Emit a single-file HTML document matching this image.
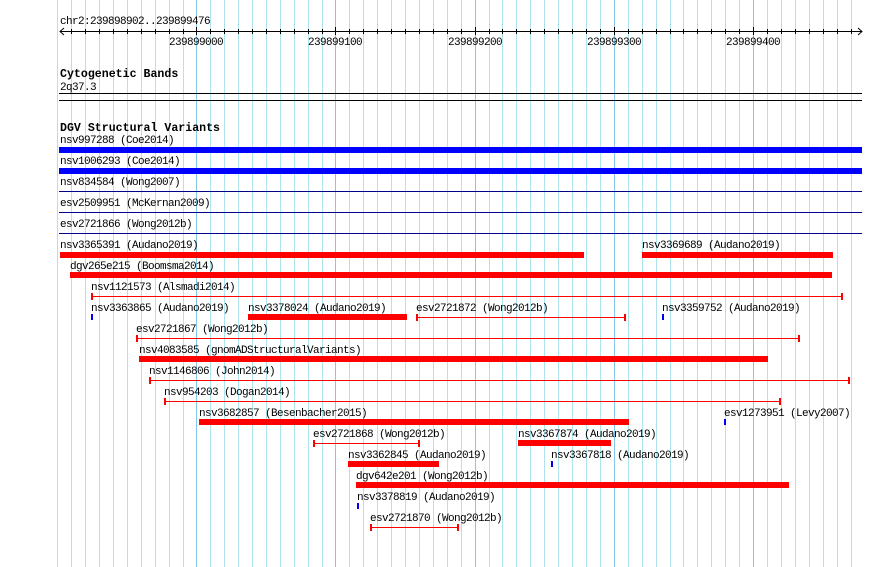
<!DOCTYPE html>
<html><head><meta charset="utf-8"><style>
html,body{margin:0;padding:0;background:#fff;width:890px;height:567px;overflow:hidden}
svg text{font-family:"Liberation Mono","DejaVu Sans Mono",monospace;font-size:11px;letter-spacing:-0.6px;fill:#000}
svg text.b{font-weight:bold;font-size:11.6px;letter-spacing:0}
</style></head><body>
<svg width="890" height="567" viewBox="0 0 890 567" xmlns="http://www.w3.org/2000/svg">
<g stroke="#aee4ee" stroke-width="1">
<line x1="57.5" y1="0" x2="57.5" y2="567"/><line x1="71.5" y1="0" x2="71.5" y2="567"/><line x1="85.5" y1="0" x2="85.5" y2="567"/><line x1="99.5" y1="0" x2="99.5" y2="567"/><line x1="113.5" y1="0" x2="113.5" y2="567"/><line x1="127.5" y1="0" x2="127.5" y2="567"/><line x1="141.5" y1="0" x2="141.5" y2="567"/><line x1="155.5" y1="0" x2="155.5" y2="567"/><line x1="169.5" y1="0" x2="169.5" y2="567"/><line x1="183.5" y1="0" x2="183.5" y2="567"/>
<line x1="210.5" y1="0" x2="210.5" y2="567"/><line x1="224.5" y1="0" x2="224.5" y2="567"/><line x1="238.5" y1="0" x2="238.5" y2="567"/><line x1="252.5" y1="0" x2="252.5" y2="567"/><line x1="266.5" y1="0" x2="266.5" y2="567"/><line x1="280.5" y1="0" x2="280.5" y2="567"/><line x1="294.5" y1="0" x2="294.5" y2="567"/><line x1="308.5" y1="0" x2="308.5" y2="567"/><line x1="322.5" y1="0" x2="322.5" y2="567"/>
<line x1="349.5" y1="0" x2="349.5" y2="567"/><line x1="363.5" y1="0" x2="363.5" y2="567"/><line x1="377.5" y1="0" x2="377.5" y2="567"/><line x1="391.5" y1="0" x2="391.5" y2="567"/><line x1="405.5" y1="0" x2="405.5" y2="567"/><line x1="419.5" y1="0" x2="419.5" y2="567"/><line x1="433.5" y1="0" x2="433.5" y2="567"/><line x1="447.5" y1="0" x2="447.5" y2="567"/><line x1="461.5" y1="0" x2="461.5" y2="567"/>
<line x1="489.5" y1="0" x2="489.5" y2="567"/><line x1="502.5" y1="0" x2="502.5" y2="567"/><line x1="516.5" y1="0" x2="516.5" y2="567"/><line x1="530.5" y1="0" x2="530.5" y2="567"/><line x1="544.5" y1="0" x2="544.5" y2="567"/><line x1="558.5" y1="0" x2="558.5" y2="567"/><line x1="572.5" y1="0" x2="572.5" y2="567"/><line x1="586.5" y1="0" x2="586.5" y2="567"/><line x1="600.5" y1="0" x2="600.5" y2="567"/>
<line x1="628.5" y1="0" x2="628.5" y2="567"/><line x1="642.5" y1="0" x2="642.5" y2="567"/><line x1="656.5" y1="0" x2="656.5" y2="567"/><line x1="670.5" y1="0" x2="670.5" y2="567"/><line x1="683.5" y1="0" x2="683.5" y2="567"/><line x1="697.5" y1="0" x2="697.5" y2="567"/><line x1="711.5" y1="0" x2="711.5" y2="567"/><line x1="725.5" y1="0" x2="725.5" y2="567"/><line x1="739.5" y1="0" x2="739.5" y2="567"/>
<line x1="767.5" y1="0" x2="767.5" y2="567"/><line x1="781.5" y1="0" x2="781.5" y2="567"/><line x1="795.5" y1="0" x2="795.5" y2="567"/><line x1="809.5" y1="0" x2="809.5" y2="567"/><line x1="823.5" y1="0" x2="823.5" y2="567"/><line x1="837.5" y1="0" x2="837.5" y2="567"/><line x1="851.5" y1="0" x2="851.5" y2="567"/>
</g>
<g stroke="#86c6e6" stroke-width="1">
<line x1="196.5" y1="0" x2="196.5" y2="567"/><line x1="335.5" y1="0" x2="335.5" y2="567"/><line x1="475.5" y1="0" x2="475.5" y2="567"/><line x1="614.5" y1="0" x2="614.5" y2="567"/><line x1="753.5" y1="0" x2="753.5" y2="567"/>
</g>
<g transform="translate(0,-1)">
<text x="60" y="25">chr2:239898902..239899476</text>
<text x="169" y="46">239899000</text>
<text x="308" y="46">239899100</text>
<text x="448" y="46">239899200</text>
<text x="587" y="46">239899300</text>
<text x="726" y="46">239899400</text>
<text class="b" x="60" y="78">Cytogenetic Bands</text>
<text x="60" y="91">2q37.3</text>
<text class="b" x="60" y="132">DGV Structural Variants</text>
<text x="60" y="144">nsv997288 (Coe2014)</text>
<text x="60" y="165">nsv1006293 (Coe2014)</text>
<text x="60" y="186">nsv834584 (Wong2007)</text>
<text x="60" y="207">esv2509951 (McKernan2009)</text>
<text x="60" y="228">esv2721866 (Wong2012b)</text>
<text x="60" y="249">nsv3365391 (Audano2019)</text>
<text x="642" y="249">nsv3369689 (Audano2019)</text>
<text x="70" y="270">dgv265e215 (Boomsma2014)</text>
<text x="91" y="291">nsv1121573 (Alsmadi2014)</text>
<text x="91" y="312">nsv3363865 (Audano2019)</text>
<text x="248" y="312">nsv3378024 (Audano2019)</text>
<text x="416" y="312">esv2721872 (Wong2012b)</text>
<text x="662" y="312">nsv3359752 (Audano2019)</text>
<text x="136" y="333">esv2721867 (Wong2012b)</text>
<text x="139" y="354">nsv4083585 (gnomADStructuralVariants)</text>
<text x="149" y="375">nsv1146806 (John2014)</text>
<text x="164" y="396">nsv954203 (Dogan2014)</text>
<text x="199" y="417">nsv3682857 (Besenbacher2015)</text>
<text x="724" y="417">esv1273951 (Levy2007)</text>
<text x="313" y="438">esv2721868 (Wong2012b)</text>
<text x="518" y="438">nsv3367874 (Audano2019)</text>
<text x="348" y="459">nsv3362845 (Audano2019)</text>
<text x="551" y="459">nsv3367818 (Audano2019)</text>
<text x="356" y="480">dgv642e201 (Wong2012b)</text>
<text x="357" y="501">nsv3378819 (Audano2019)</text>
<text x="370" y="522">esv2721870 (Wong2012b)</text>
</g>
<g stroke="#000" stroke-width="1">
<line x1="60" y1="31.5" x2="862" y2="31.5"/>
<polyline points="64,28 60,31.5 64,35" fill="none"/>
<polyline points="858,28 862,31.5 858,35" fill="none"/>
<path d="M71.5 29v5M85.5 29v5M99.5 29v5M113.5 29v5M127.5 29v5M141.5 29v5M155.5 29v5M169.5 29v5M183.5 29v5M210.5 29v5M224.5 29v5M238.5 29v5M252.5 29v5M266.5 29v5M280.5 29v5M294.5 29v5M308.5 29v5M322.5 29v5M349.5 29v5M363.5 29v5M377.5 29v5M391.5 29v5M405.5 29v5M419.5 29v5M433.5 29v5M447.5 29v5M461.5 29v5M489.5 29v5M502.5 29v5M516.5 29v5M530.5 29v5M544.5 29v5M558.5 29v5M572.5 29v5M586.5 29v5M600.5 29v5M628.5 29v5M642.5 29v5M656.5 29v5M670.5 29v5M683.5 29v5M697.5 29v5M711.5 29v5M725.5 29v5M739.5 29v5M767.5 29v5M781.5 29v5M795.5 29v5M809.5 29v5M823.5 29v5M837.5 29v5M851.5 29v5"/>
<path d="M196.5 27v8M335.5 27v8M475.5 27v8M614.5 27v8M753.5 27v8"/>
</g>
<rect x="59" y="93" width="803" height="1" fill="#000"/>
<rect x="59" y="100" width="803" height="1" fill="#000"/>
<rect x="59" y="147" width="803" height="6" fill="#0000ff"/>
<rect x="59" y="168" width="803" height="6" fill="#0000ff"/>
<rect x="59" y="191" width="803" height="1" fill="#00008b"/>
<rect x="59" y="212" width="803" height="1" fill="#00008b"/>
<rect x="59" y="233" width="803" height="1" fill="#00008b"/>
<g fill="#ff0000">
<rect x="60" y="252" width="524" height="6"/>
<rect x="642" y="252" width="191" height="6"/>
<rect x="70" y="272" width="762" height="6"/>
<rect x="91" y="296" width="751" height="1"/><rect x="91" y="293" width="2" height="7"/><rect x="841" y="293" width="2" height="7"/>
<rect x="91" y="314" width="2" height="6" fill="#0000ff"/>
<rect x="248" y="314" width="159" height="6"/>
<rect x="416" y="317" width="209" height="1"/><rect x="416" y="314" width="2" height="7"/><rect x="624" y="314" width="2" height="7"/>
<rect x="662" y="314" width="2" height="6" fill="#0000ff"/>
<rect x="136" y="338" width="663" height="1"/><rect x="136" y="335" width="2" height="7"/><rect x="798" y="335" width="2" height="7"/>
<rect x="139" y="356" width="629" height="6"/>
<rect x="149" y="380" width="700" height="1"/><rect x="149" y="377" width="2" height="7"/><rect x="848" y="377" width="2" height="7"/>
<rect x="164" y="401" width="616" height="1"/><rect x="164" y="398" width="2" height="7"/><rect x="779" y="398" width="2" height="7"/>
<rect x="199" y="419" width="430" height="6"/>
<rect x="724" y="419" width="2" height="6" fill="#0000ff"/>
<rect x="313" y="443" width="106" height="1"/><rect x="313" y="440" width="2" height="7"/><rect x="418" y="440" width="2" height="7"/>
<rect x="518" y="440" width="93" height="6"/>
<rect x="348" y="461" width="91" height="6"/>
<rect x="551" y="461" width="2" height="6" fill="#0000ff"/>
<rect x="356" y="482" width="433" height="6"/>
<rect x="357" y="503" width="2" height="6" fill="#0000ff"/>
<rect x="370" y="527" width="88" height="1"/><rect x="370" y="524" width="2" height="7"/><rect x="457" y="524" width="2" height="7"/>
</g>
</svg>
</body></html>
